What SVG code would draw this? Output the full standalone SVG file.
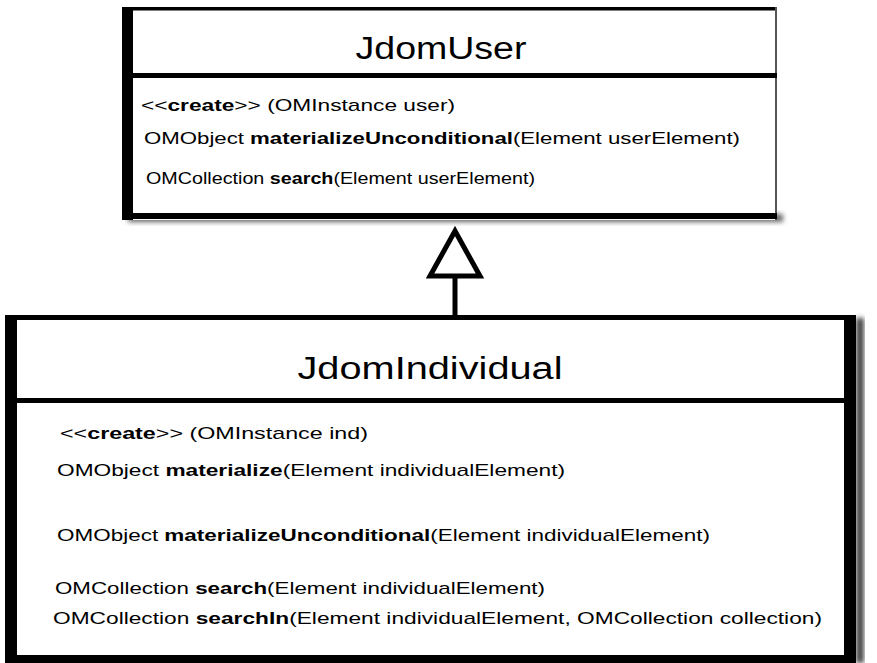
<svg xmlns="http://www.w3.org/2000/svg" width="877" height="663" viewBox="0 0 877 663">
<defs>
<style>
.t{font-family:"Liberation Sans",Arial,sans-serif;font-size:17px;fill:#000}
.ti{font-family:"Liberation Sans",Arial,sans-serif;font-size:31px;fill:#000;text-anchor:middle}
.b{font-weight:bold}
</style>
<filter id="sh" x="-10%" y="-50%" width="120%" height="200%"><feGaussianBlur stdDeviation="2.5"/></filter>
</defs>
<rect width="877" height="663" fill="#fff"/>
<g id="JdomUser">
<rect x="128" y="214" width="655" height="8" fill="#666" filter="url(#sh)"/>
<rect x="122" y="7" width="655" height="213" fill="#fff"/>
<rect x="122" y="7" width="655" height="3.5" fill="#000"/>
<rect x="122" y="7" width="11" height="213" fill="#000"/>
<rect x="775" y="7" width="2" height="213" fill="#555"/>
<rect x="122" y="213" width="655" height="6" fill="#000"/>
<rect x="133" y="73" width="644" height="5" fill="#000"/>
<text class="ti" x="441" y="59" textLength="171" lengthAdjust="spacingAndGlyphs">JdomUser</text>
<text class="t" x="141" y="111" textLength="314" lengthAdjust="spacingAndGlyphs">&lt;&lt;<tspan class="b">create</tspan>&gt;&gt; (OMInstance user)</text>
<text class="t" x="144" y="144" textLength="596" lengthAdjust="spacingAndGlyphs">OMObject <tspan class="b">materializeUnconditional</tspan>(Element userElement)</text>
<text class="t" x="146" y="184" textLength="389" lengthAdjust="spacingAndGlyphs">OMCollection <tspan class="b">search</tspan>(Element userElement)</text>
</g>
<g id="connectors">
<line x1="455" y1="276" x2="455" y2="316" stroke="#000" stroke-width="5"/>
<polygon points="455,231 430,276 480,276" fill="#fff" stroke="#000" stroke-width="5" stroke-linejoin="miter"/>
</g>
<g id="JdomIndividual">
<rect x="856" y="318" width="8" height="345" fill="#444" filter="url(#sh)"/>
<rect x="5" y="315" width="851" height="348" fill="#fff"/>
<rect x="5" y="315" width="851" height="5" fill="#000"/>
<rect x="5" y="315" width="12" height="348" fill="#000"/>
<rect x="844" y="315" width="12" height="348" fill="#000"/>
<rect x="5" y="655" width="851" height="8" fill="#000"/>
<rect x="17" y="398" width="827" height="5" fill="#000"/>
<text class="ti" x="430" y="379" textLength="265" lengthAdjust="spacingAndGlyphs">JdomIndividual</text>
<text class="t" x="60" y="439" textLength="308" lengthAdjust="spacingAndGlyphs">&lt;&lt;<tspan class="b">create</tspan>&gt;&gt; (OMInstance ind)</text>
<text class="t" x="57" y="476" textLength="508" lengthAdjust="spacingAndGlyphs">OMObject <tspan class="b">materialize</tspan>(Element individualElement)</text>
<text class="t" x="57" y="541" textLength="653" lengthAdjust="spacingAndGlyphs">OMObject <tspan class="b">materializeUnconditional</tspan>(Element individualElement)</text>
<text class="t" x="55" y="594" textLength="490" lengthAdjust="spacingAndGlyphs">OMCollection <tspan class="b">search</tspan>(Element individualElement)</text>
<text class="t" x="53" y="624" textLength="769" lengthAdjust="spacingAndGlyphs">OMCollection <tspan class="b">searchIn</tspan>(Element individualElement, OMCollection collection)</text>
</g>
</svg>
